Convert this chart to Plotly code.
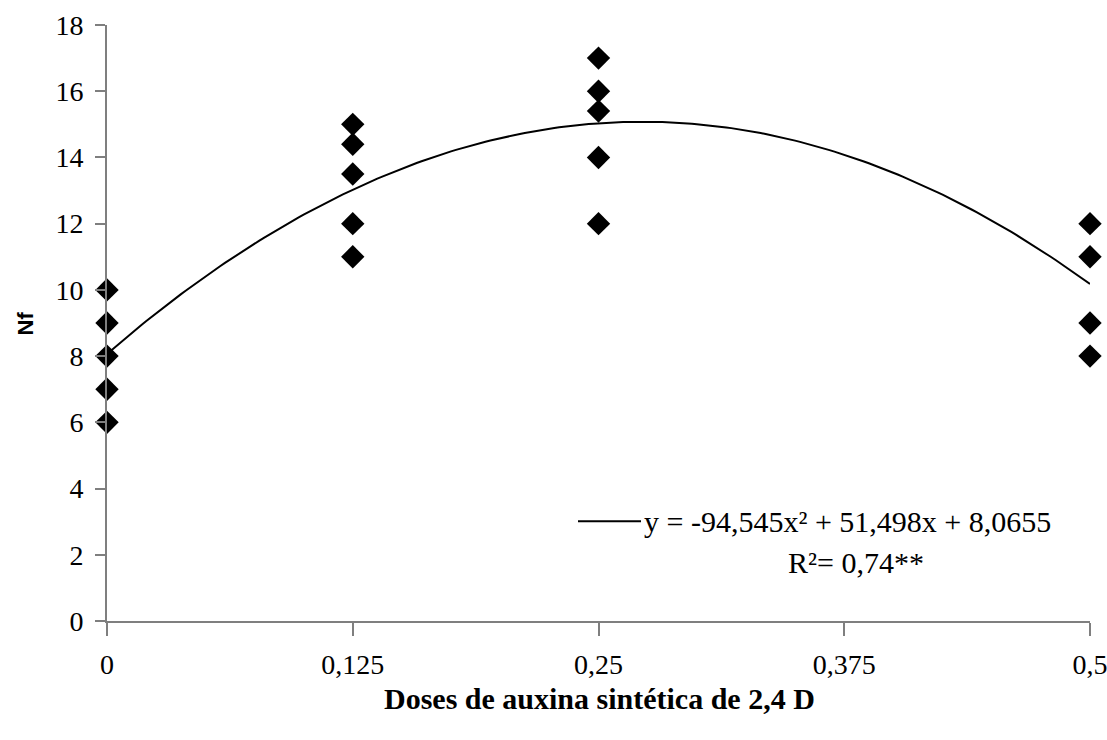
import numpy as np
import plotly.graph_objects as go

# Observed data (doses of 2,4-D vs Nf)
dose_x = [0, 0, 0, 0, 0,
          0.125, 0.125, 0.125, 0.125, 0.125,
          0.25, 0.25, 0.25, 0.25, 0.25,
          0.5, 0.5, 0.5, 0.5]
nf_y = [10, 9, 8, 7, 6,
        15, 14.4, 13.5, 12, 11,
        17, 16, 15.4, 14, 12,
        12, 11, 9, 8]

# Fitted quadratic shown on the chart: y = a x^2 + b x + c
coef = [-94.545, 51.498, 8.0655]

x_ticks = [0, 0.125, 0.25, 0.375, 0.5]
x_tick_labels = ["0", "0,125", "0,25", "0,375", "0,5"]
y_ticks = [0, 2, 4, 6, 8, 10, 12, 14, 16, 18]

xc = np.linspace(0, 0.5, 201)
yc = np.polyval(coef, xc)

FONT = "Liberation Serif"

fig = go.Figure()
fig.add_trace(go.Scatter(
    x=xc, y=yc, mode="lines",
    line=dict(color="black", width=2),
    showlegend=False, hoverinfo="skip"))
fig.add_trace(go.Scatter(
    x=dose_x, y=nf_y, mode="markers",
    marker=dict(symbol="diamond", size=18, color="black"),
    cliponaxis=False, showlegend=False))

fig.update_layout(
    width=1107, height=740,
    margin=dict(l=107, r=17, t=25, b=119),
    paper_bgcolor="white", plot_bgcolor="white",
    font=dict(family=FONT, color="black", size=28),
    showlegend=False,
)
fig.update_xaxes(
    range=[0, 0.5], tickvals=x_ticks, ticktext=x_tick_labels,
    showgrid=False, zeroline=False, showline=True,
    linecolor="#7f7f7f", linewidth=2,
    ticks="outside", ticklen=13, tickwidth=2, tickcolor="#7f7f7f",
    ticklabelstandoff=4, ticklabeloverflow="allow",
    automargin=False,
    tickfont=dict(family=FONT, size=28, color="black"),
)
fig.update_yaxes(
    range=[0, 18], tickvals=y_ticks,
    showgrid=False, zeroline=False, showline=True,
    linecolor="#7f7f7f", linewidth=2,
    ticks="outside", ticklen=10, tickwidth=2, tickcolor="#7f7f7f",
    ticklabelstandoff=6, automargin=False,
    tickfont=dict(family=FONT, size=28, color="black"),
)

# Axis titles
fig.add_annotation(xref="paper", yref="paper",
                   x=(599 - 107) / 983, y=-(700 - 622) / 597,
                   xanchor="center", yanchor="middle", showarrow=False,
                   text="<b>Doses de auxina sintética de 2,4 D</b>",
                   font=dict(family=FONT, size=30, color="black"))
fig.add_annotation(xref="paper", yref="paper",
                   x=-(107 - 25) / 983, y=(622 - 324) / 597,
                   xanchor="center", yanchor="middle", showarrow=False,
                   textangle=-90,
                   text="<b>Nf</b>",
                   font=dict(family="Liberation Sans", size=22, color="black"))

# Equation legend
fig.add_shape(type="line", xref="paper", yref="paper",
              x0=(578 - 107) / 983, x1=(641 - 107) / 983,
              y0=(622 - 522) / 597, y1=(622 - 522) / 597,
              line=dict(color="black", width=2))
fig.add_annotation(xref="paper", yref="paper",
                   x=(642 - 107) / 983, y=(622 - 522) / 597,
                   xanchor="left", yanchor="middle", showarrow=False,
                   text="y = -94,545x² + 51,498x + 8,0655",
                   font=dict(family=FONT, size=30, color="black"))
fig.add_annotation(xref="paper", yref="paper",
                   x=(856 - 107) / 983, y=(622 - 563) / 597,
                   xanchor="center", yanchor="middle", showarrow=False,
                   text="R²= 0,74**",
                   font=dict(family=FONT, size=30, color="black"))

fig.write_html("out.html")
